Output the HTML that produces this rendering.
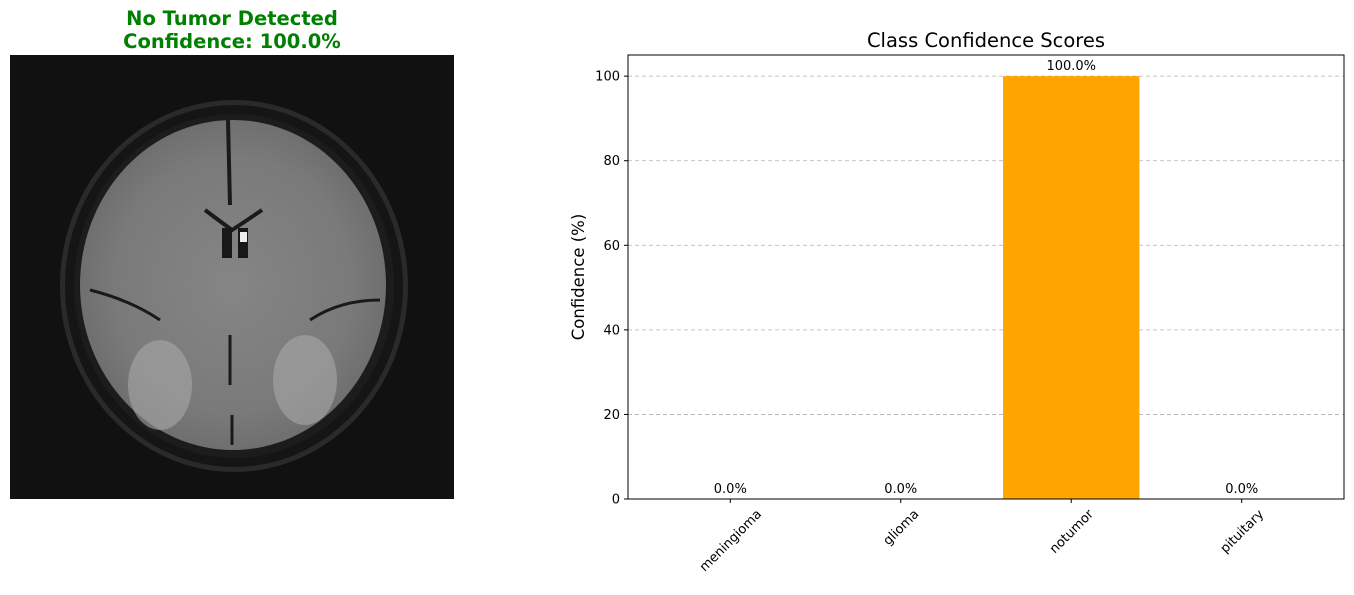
<!DOCTYPE html>
<html><head><meta charset="utf-8"><style>
body{margin:0;background:#fff;font-family:"Liberation Sans","DejaVu Sans",sans-serif;}
svg text{font-family:"DejaVu Sans","Liberation Sans",sans-serif;}
</style></head><body>
<svg width="1354" height="590" xmlns="http://www.w3.org/2000/svg">
<g>
<text x="232" y="25" text-anchor="middle" font-size="19.5" font-weight="bold" fill="#008000">No Tumor Detected</text>
<text x="232" y="48" text-anchor="middle" font-size="19.5" font-weight="bold" fill="#008000">Confidence: 100.0%</text>
<defs>
<radialGradient id="bg" cx="50%" cy="50%" r="55%"><stop offset="0" stop-color="#858585"/><stop offset="0.7" stop-color="#7a7a7a"/><stop offset="1" stop-color="#6a6a6a"/></radialGradient>
</defs>
<rect x="10" y="55" width="444" height="444" fill="#111"/>
<ellipse cx="234" cy="286" rx="174" ry="186" fill="#2a2a2a"/>
<ellipse cx="234" cy="286" rx="169" ry="181" fill="#151515"/>
<ellipse cx="234" cy="286" rx="160" ry="172" fill="#1c1c1c"/>
<ellipse cx="233" cy="285" rx="153" ry="165" fill="url(#bg)"/>
<ellipse cx="160" cy="385" rx="32" ry="45" fill="#a8a8a8" opacity="0.6"/>
<ellipse cx="305" cy="380" rx="32" ry="45" fill="#a8a8a8" opacity="0.6"/>
<path d="M228 120 L230 205 M205 210 Q225 225 232 230 Q240 225 262 210" stroke="#1a1a1a" stroke-width="4" fill="none"/>
<rect x="222" y="228" width="10" height="30" fill="#181818"/><rect x="238" y="228" width="10" height="30" fill="#181818"/>
<rect x="240" y="232" width="7" height="10" fill="#eee"/>
<path d="M230 335 L230 385 M232 415 L232 445 M90 290 Q130 300 160 320 M380 300 Q340 300 310 320" stroke="#1a1a1a" stroke-width="3" fill="none"/>
</g>
<g id="chart">
<text x="986" y="47" text-anchor="middle" font-size="19.5" fill="#000">Class Confidence Scores</text>
<text transform="translate(584,277) rotate(-90)" text-anchor="middle" font-size="16.5" fill="#000">Confidence (%)</text>
</g>
</svg>
<script>
const categories=["meningioma","glioma","notumor","pituitary"];
const values=[0.0,0.0,100.0,0.0];
const yTicks=[0,20,40,60,80,100];
const NS="http://www.w3.org/2000/svg";
const g=document.getElementById('chart');
const L=628,R=1344,T=55,B=499;
const y=v=>B-(v/105)*(B-T);
const step=(R-L)/4.2;
const x=i=>L+(i+0.6)*step;
function mk(t,a,txt){const e=document.createElementNS(NS,t);for(const k in a)e.setAttribute(k,a[k]);if(txt!==undefined)e.textContent=txt;g.appendChild(e);return e;}
yTicks.forEach(v=>{
 const gl=mk('line',{x1:L,x2:R,y1:y(v),y2:y(v),stroke:'#b0b0b0','stroke-dasharray':'4,3','stroke-width':0.8});
 
 
 const tk=mk('line',{x1:L-4,x2:L,y1:y(v),y2:y(v),stroke:'#000'});
 
 
 const tl=mk('text',{x:L-8,y:y(v)+4.5,'text-anchor':'end','font-size':13},String(v));
 
 
});
categories.forEach((c,i)=>{
 const w=step*0.8;
 const b=mk('rect',{x:x(i)-w/2,y:y(values[i]),width:w,height:B-y(values[i]),fill:'#ffa500'});
 
 
 const vl=mk('text',{x:x(i),y:y(values[i])-6,'text-anchor':'middle','font-size':13},values[i].toFixed(1)+'%');
 
 
 const tk=mk('line',{x1:x(i),x2:x(i),y1:B,y2:B+4,stroke:'#000'});
 
 
 const xl=mk('text',{'text-anchor':'middle','font-size':13},c);
 
 
 const len=xl.getComputedTextLength();
 const cy=B+8+(len+13)*0.707/2;
 xl.setAttribute('transform',`translate(${x(i)},${cy}) rotate(-45) translate(0,4.5)`);
});
const fr=mk('rect',{x:L,y:T,width:R-L,height:B-T,fill:'none',stroke:'#000','stroke-width':1});


</script>
</body></html>
